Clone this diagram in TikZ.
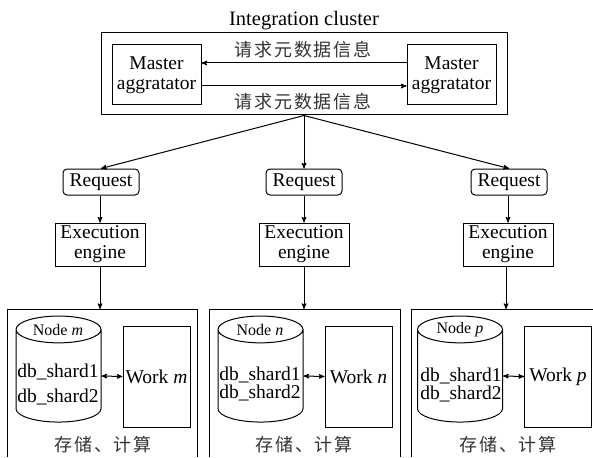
\documentclass[tikz,border=0pt]{standalone}
\usepackage{fontspec}
\setmainfont{Liberation Serif}
\newfontfamily\cjk{Noto Sans CJK SC}[LetterSpace=11]
\usetikzlibrary{shapes.geometric,arrows}

\begin{document}
\begin{tikzpicture}[
  x=1pt, y=-1pt,
  >=stealth',
  line width=1pt,
  font=\fontsize{19.5}{20}\selectfont
]
  \tikzstyle{every node}=[inner sep=0pt, align=center]
  \tikzstyle{box}=[draw=black]
  \tikzstyle{masterbox}=[box, minimum width=89pt, minimum height=60pt]
  \tikzstyle{reqbox}=[box, rounded corners=4pt, minimum width=76pt, minimum height=26pt]
  \tikzstyle{execbox}=[box, minimum width=90pt, minimum height=43pt]
  \tikzstyle{workbox}=[box, minimum width=67pt, minimum height=101pt]
  \tikzstyle{dbcyl}=[draw=black, cylinder, shape border rotate=90, shape aspect=0.33,
    minimum width=85pt, minimum height=106pt]
  \tikzstyle{zhlabel}=[font=\fontsize{18}{20}\selectfont\cjk, text=black!80]
  \tikzstyle{nodelabel}=[font=\fontsize{16}{16}\selectfont]

  \useasboundingbox (0,0) rectangle (593,457);

  % Integration cluster
  \node[font=\fontsize{20.5}{20}\selectfont] (title) at (304,21) {Integration cluster};
  \node[box, minimum width=406pt, minimum height=82pt] (cluster) at (304,74) {};
  \node[masterbox] (masl) at (156.5,75) {Master\\aggratator};
  \node[masterbox] (masr) at (451.5,75) {Master\\aggratator};
  \node[zhlabel] (reqtop) at (303,50) {请求元数据信息};
  \node[zhlabel] (reqbot) at (303,102) {请求元数据信息};

  % Request and engine columns
  \node[reqbox] (reqm) at (101,182) {Request};
  \node[reqbox] (reqn) at (304,182) {Request};
  \node[reqbox] (reqp) at (509,182) {Request};
  \node[execbox] (execm) at (100,244.5) {Execution\\engine};
  \node[execbox] (execn) at (304,244.5) {Execution\\engine};
  \node[execbox] (execp) at (508,244.5) {Execution\\engine};

  % Open shells, cut by the page
  \draw (7,457) |- (197,309) -- (197,457);
  \draw (209,457) |- (400,309) -- (400,457);
  \draw (411,457) |- (593,309);
  \coordinate (topm) at (100,309);
  \coordinate (topn) at (304,309);
  \coordinate (topp) at (506,309);

  % Storage and work
  \node[dbcyl] (dbm) at (58.5,376) {\phantom{db\_shard1}};
  \node[dbcyl] (dbn) at (260.5,376) {\phantom{db\_shard1}};
  \node[dbcyl] (dbp) at (460,376) {\phantom{db\_shard1}};
  \node[workbox] (workm) at (156.5,376.5) {Work \textit{m}};
  \node[workbox] (workn) at (358.5,376.5) {Work \textit{n}};
  \node[workbox] (workp) at (558,376.5) {Work \textit{p}};

  \node[nodelabel] (namem) at (58,330) {Node \textit{m}};
  \node[nodelabel] (namen) at (260,330) {Node \textit{n}};
  \node[nodelabel] (namep) at (460,330) {Node \textit{p}};
  \node (shm1) at (58,372) {db\_shard1};
  \node (shm2) at (58,397) {db\_shard2};
  \node (shn1) at (260,375) {db\_shard1};
  \node (shn2) at (260,393) {db\_shard2};
  \node (shp1) at (461,376) {db\_shard1};
  \node (shp2) at (461,394) {db\_shard2};
  \node[zhlabel] (capm) at (103,445) {存储、计算};
  \node[zhlabel] (capn) at (304,445) {存储、计算};
  \node[zhlabel] (capp) at (508,445) {存储、计算};

  % --- Edges ---
  \draw[->] ([yshift=12pt]masr.west) -- ([yshift=12pt]masl.east);
  \draw[->] ([yshift=-11pt]masl.east) -- ([yshift=-11pt]masr.west);

  \draw[->] (cluster.south) -- (reqm.north);
  \draw[->] (cluster.south) -- (reqn.north);
  \draw[->] (cluster.south) -- (reqp.north);
  \draw[->] (reqm.south -| execm) -- (execm);
  \draw[->] (reqn) -- (execn);
  \draw[->] (reqp.south -| execp) -- (execp);
  \draw[->] (execm) -- (topm);
  \draw[->] (execn) -- (topn);
  \draw[->] (execp.south -| topp) -- (topp);
  \draw[<->] (dbm.east) -- (workm.west);
  \draw[<->] (dbn.east) -- (workn.west);
  \draw[<->] (dbp.east) -- (workp.west);
\end{tikzpicture}
\end{document}
